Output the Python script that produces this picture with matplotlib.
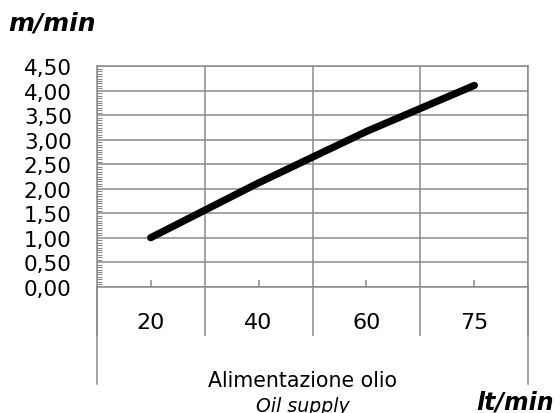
import matplotlib
matplotlib.use("Agg")
import matplotlib.pyplot as plt
import numpy as np
from matplotlib.ticker import FixedLocator, MultipleLocator

# values
flow_labels = ["20", "40", "60", "75"]          # lt/min
speed = [1.00, 2.12, 3.17, 4.11]                # m/min
y_ticks = [0.0, 0.5, 1.0, 1.5, 2.0, 2.5, 3.0, 3.5, 4.0, 4.5]
y_tick_labels = [f"{v:.2f}".replace(".", ",") for v in y_ticks]

plt.rcParams["font.family"] = ["DejaVu Sans"]
grid_col = "#8a8a8a"

fig = plt.figure(figsize=(5.6, 4.14), dpi=100)
ax = fig.add_axes([0.1727, 0.3051, 0.7707, 0.5323])

x = np.arange(len(flow_labels))
ax.plot(x, speed, color="black", lw=5.2, solid_capstyle="round", zorder=5)

ax.set_xlim(-0.5, len(flow_labels) - 0.5)
ax.set_ylim(0, 4.5)

# y axis: comma decimals, small inward minor ticks
ax.set_yticks(y_ticks, y_tick_labels)
ax.yaxis.set_minor_locator(MultipleLocator(0.05))
ax.tick_params(axis="y", which="major", length=0, pad=18, labelsize=15.5)
ax.tick_params(axis="y", which="minor", direction="in", length=3.5,
               width=0.8, color=grid_col)
ax.grid(axis="y", which="major", color=grid_col, lw=1.1)

# x axis: category boxes (major ticks at boundaries, labels at centres)
bounds = np.arange(len(flow_labels) + 1) - 0.5
ax.xaxis.set_major_locator(FixedLocator(bounds))
ax.xaxis.set_minor_locator(FixedLocator(x))
ax.set_xticklabels([], minor=False)
ax.set_xticklabels(flow_labels, minor=True)
ax.tick_params(axis="x", which="major", direction="out", length=35,
               width=1.1, color=grid_col)
ax.tick_params(axis="x", which="minor", direction="in", length=5,
               width=1.1, color=grid_col, pad=18, labelsize=16)
ax.grid(axis="x", which="major", color=grid_col, lw=1.1)
for b in (bounds[0], bounds[-1]):
    ax.axvline(b, ymin=-0.44, ymax=0, color=grid_col, lw=1.1, clip_on=False)

for s in ax.spines.values():
    s.set_color(grid_col)
    s.set_linewidth(1.1)

fig.text(0.014, 0.926, "m/min", fontsize=18, fontweight="bold",
         fontstyle="italic", ha="left", va="baseline")
fig.text(0.850, 0.012, "lt/min", fontsize=17, fontweight="bold",
         fontstyle="italic", ha="left", va="baseline")
fig.text(0.540, 0.066, "Alimentazione olio", fontsize=14.8,
         ha="center", va="baseline")
fig.text(0.540, 0.006, "Oil supply", fontsize=13.6, fontstyle="italic",
         ha="center", va="baseline")

fig.savefig("out.png", dpi=100)
